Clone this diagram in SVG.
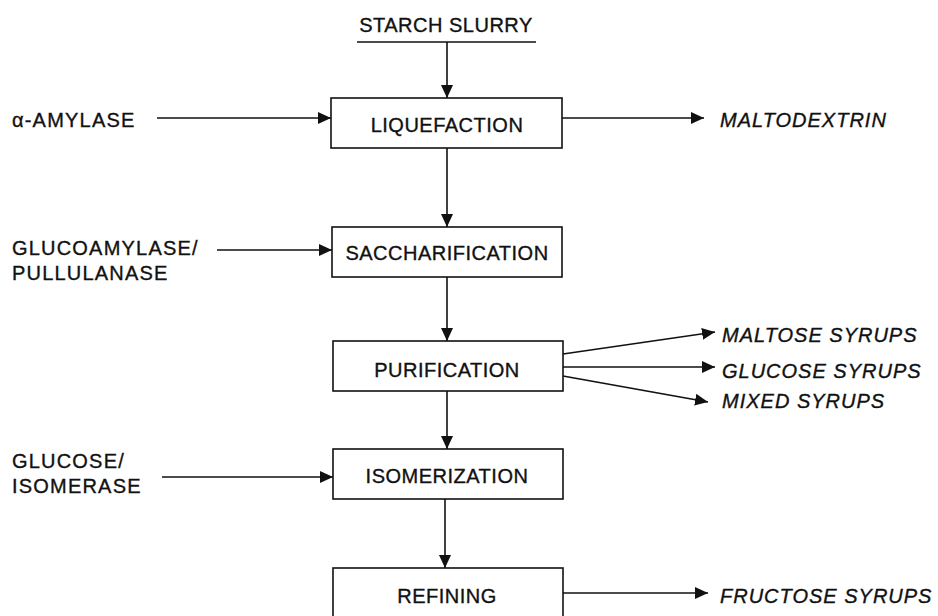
<svg xmlns="http://www.w3.org/2000/svg" width="938" height="616" viewBox="0 0 938 616">
<defs>
<style>
text{font-family:"Liberation Sans",Arial,sans-serif;font-size:20px;letter-spacing:0.5px;fill:#111;stroke:#111;stroke-width:0.35}
.c{text-anchor:middle}
.l{letter-spacing:1.2px}
.i{font-style:italic;letter-spacing:1px}
.box{fill:#fff;stroke:#111;stroke-width:1.6}
.ln{stroke:#111;stroke-width:1.6;fill:none;marker-end:url(#ah)}
</style>
<marker id="ah" markerUnits="userSpaceOnUse" markerWidth="14" markerHeight="12" refX="13" refY="6" orient="auto">
<path d="M0,0 L13,6 L0,12 Z" fill="#111"/>
</marker>
</defs>
<rect width="938" height="616" fill="#fff"/>
<g id="starch">
<text class="c" x="446" y="32">STARCH SLURRY</text>
<line x1="357" y1="42" x2="536" y2="42" stroke="#111" stroke-width="1.6"/>
</g>
<g id="liquefaction">
<rect class="box" x="331" y="98" width="231" height="50"/>
<text class="c" x="447" y="132">LIQUEFACTION</text>
</g>
<g id="saccharification">
<rect class="box" x="332" y="227" width="230" height="50"/>
<text class="c" x="447" y="260">SACCHARIFICATION</text>
</g>
<g id="purification">
<rect class="box" x="333" y="341" width="230" height="50"/>
<text class="c" x="447" y="377">PURIFICATION</text>
</g>
<g id="isomerization">
<rect class="box" x="333" y="449" width="230" height="50"/>
<text class="c" x="447" y="483">ISOMERIZATION</text>
</g>
<g id="refining">
<rect class="box" x="333" y="568" width="230" height="60"/>
<text class="c" x="447" y="603">REFINING</text>
</g>
<g id="amylase"><text class="l" x="12" y="127">α-AMYLASE</text></g>
<g id="glucoamylase"><text class="l" x="12" y="255">GLUCOAMYLASE/</text><text class="l" x="12" y="280">PULLULANASE</text></g>
<g id="glucose-isomerase"><text class="l" x="12" y="468">GLUCOSE/</text><text class="l" x="12" y="493">ISOMERASE</text></g>
<g id="maltodextrin"><text class="i" x="720" y="127">MALTODEXTRIN</text></g>
<g id="maltose"><text class="i" x="722" y="342">MALTOSE SYRUPS</text></g>
<g id="glucose"><text class="i" x="722" y="378">GLUCOSE SYRUPS</text></g>
<g id="mixed"><text class="i" x="722" y="408">MIXED SYRUPS</text></g>
<g id="fructose"><text class="i" x="720" y="603">FRUCTOSE SYRUPS</text></g>
<g id="connectors">
<line class="ln" x1="447" y1="42" x2="447" y2="98"/>
<line class="ln" x1="157" y1="118" x2="331" y2="118"/>
<line class="ln" x1="562" y1="118" x2="704" y2="118"/>
<line class="ln" x1="447" y1="148" x2="447" y2="227"/>
<line class="ln" x1="217" y1="250" x2="332" y2="250"/>
<line class="ln" x1="447" y1="277" x2="447" y2="341"/>
<line class="ln" x1="563" y1="354" x2="715" y2="332"/>
<line class="ln" x1="563" y1="367" x2="715" y2="367"/>
<line class="ln" x1="563" y1="376" x2="708" y2="402"/>
<line class="ln" x1="447" y1="391" x2="447" y2="449"/>
<line class="ln" x1="162" y1="477" x2="333" y2="477"/>
<line class="ln" x1="445" y1="499" x2="445" y2="568"/>
<line class="ln" x1="563" y1="593" x2="708" y2="593"/>
</g>
</svg>
